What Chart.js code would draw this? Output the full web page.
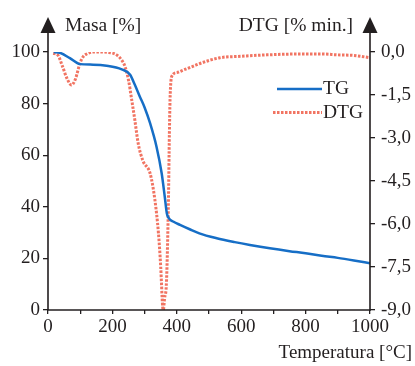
<!DOCTYPE html>
<html>
<head>
<meta charset="utf-8">
<script src="https://cdn.jsdelivr.net/npm/chart.js@4/dist/chart.umd.min.js"></script>
<style>
html,body{margin:0;padding:0;background:#fff;}
#wrap{width:415px;height:366px;position:relative;}
</style>
</head>
<body>
<div id="wrap"><canvas id="c" width="415" height="366"></canvas></div>
<script>
// ---- data ----
const tgTemp = [18, 37, 68, 99, 140, 182, 229, 255, 270, 286, 300, 317, 337, 353, 363, 369, 374, 390, 410, 440, 470, 524, 580, 627, 689, 750, 800, 850, 900, 950, 1000];
const tgMass = [100, 99.7, 97.6, 95.3, 95.1, 94.7, 93.3, 91.2, 87.2, 82.5, 78.5, 72.4, 63.3, 53, 43.5, 37.5, 35.8, 34.2, 33, 31.3, 29.7, 27.8, 26.3, 25.2, 23.9, 22.8, 22, 21, 20.2, 19.2, 18.1];

const dtgTemp = [16, 30, 45, 60, 73, 85, 99, 110, 120, 140, 161, 190, 213, 230, 239, 250, 260, 270, 280, 295, 317, 332, 343, 350, 356, 358, 362, 368, 374, 377, 379, 384, 400, 420, 450, 472, 534, 600, 679, 783, 850, 900, 950, 1000];
const dtgRate = [-0.05, -0.1, -0.5, -0.95, -1.15, -0.95, -0.4, -0.15, -0.07, 0, 0, -0.02, -0.1, -0.3, -0.5, -0.98, -1.67, -2.4, -3.18, -3.8, -4.23, -5.16, -6.32, -7.49, -8.88, -9.0, -8.6, -8.0, -5.2, -2.84, -1.67, -0.86, -0.72, -0.63, -0.5, -0.4, -0.2, -0.15, -0.1, -0.07, -0.07, -0.1, -0.12, -0.2];

const xTicks = [0, 100, 200, 300, 400, 500, 600, 700, 800, 900, 1000];
const massTicks = [0, 20, 40, 60, 80, 100];
const dtgTicks = [-9, -7.5, -6, -4.5, -3, -1.5, 0];

const labels = { tg: 'TG', dtg: 'DTG', left: 'Masa [%]', right: 'DTG [% min.]', x: 'Temperatura [°C]' };

// ---- styling ----
const FONT = '"Liberation Serif", "Times New Roman", serif';
const INK = '#231f20';
const BLUE = 'rgb(22,110,198)';
const RED = 'rgba(238,92,70,0.85)';

const tgData = tgTemp.map((t, i) => ({ x: t, y: tgMass[i] }));
const dtgData = dtgTemp.map((t, i) => ({ x: t, y: dtgRate[i] }));

const decor = {
  id: 'decor',
  afterDraw(chart) {
    const ctx = chart.ctx;
    const a = chart.chartArea;
    const L = a.left, R = a.right, B = a.bottom;
    const topY = 32;
    ctx.save();
    ctx.strokeStyle = INK;
    ctx.fillStyle = INK;
    ctx.lineWidth = 1.6;
    ctx.beginPath();
    ctx.moveTo(L, topY); ctx.lineTo(L, B);
    ctx.moveTo(L - 1, B); ctx.lineTo(R + 1, B);
    ctx.moveTo(R, topY); ctx.lineTo(R, B);
    ctx.stroke();
    [L, R].forEach(x => {
      ctx.beginPath();
      ctx.moveTo(x, 17);
      ctx.lineTo(x - 7.5, 33);
      ctx.lineTo(x + 7.5, 33);
      ctx.closePath();
      ctx.fill();
    });
    ctx.font = '19.5px ' + FONT;
    ctx.textBaseline = 'alphabetic';
    ctx.textAlign = 'left';
    ctx.fillText(labels.left, 65, 31);
    ctx.textAlign = 'right';
    ctx.fillText(labels.right, 353, 31);
    ctx.font = '19px ' + FONT;
    ctx.fillText(labels.x, 412, 358);

    // legend
    const ds = chart.data.datasets;
    const rows = [89, 112.5];
    ds.forEach((d, i) => {
      const y = rows[i];
      ctx.beginPath();
      ctx.strokeStyle = d.borderColor;
      ctx.lineWidth = d.borderWidth;
      ctx.setLineDash(d.borderDash || []);
      ctx.moveTo(i === 0 ? 277 : 273, y);
      ctx.lineTo(322, y);
      ctx.stroke();
      ctx.setLineDash([]);
      ctx.fillStyle = INK;
      ctx.textAlign = 'left';
      ctx.font = '19.5px ' + FONT;
      ctx.fillText(d.label, 323, y + 5);
    });
    ctx.restore();
  }
};

new Chart(document.getElementById('c'), {
  type: 'line',
  data: {
    datasets: [
      { label: labels.tg, data: tgData, yAxisID: 'y', borderColor: BLUE, borderWidth: 2.5,
        pointRadius: 0, cubicInterpolationMode: 'monotone', fill: false },
      { label: labels.dtg, data: dtgData, yAxisID: 'y2', borderColor: RED, borderWidth: 3,
        borderDash: [2.5, 1.5], pointRadius: 0, cubicInterpolationMode: 'monotone', fill: false }
    ]
  },
  options: {
    responsive: false,
    animation: false,
    devicePixelRatio: 1,
    layout: { padding: { top: 52, left: 0, right: 0, bottom: 0 } },
    plugins: { legend: { display: false }, tooltip: { enabled: false } },
    scales: {
      x: {
        type: 'linear', min: 0, max: 1000,
        afterBuildTicks: s => { s.ticks = xTicks.map(v => ({ value: v })); },
        afterFit: s => { s.height = 56; },
        border: { display: false },
        grid: { drawOnChartArea: false, drawTicks: true, tickLength: 4, color: INK, lineWidth: 1.3 },
        ticks: { color: INK, font: { family: FONT, size: 19 }, padding: 2, maxRotation: 0, autoSkip: false,
          callback: v => (v % 200 === 0 ? String(v) : '') }
      },
      y: {
        position: 'left', min: 0, max: 100,
        afterBuildTicks: s => { s.ticks = massTicks.map(v => ({ value: v })); },
        afterFit: s => { s.width = 48; },
        border: { display: false },
        grid: { drawOnChartArea: false, drawTicks: true, tickLength: 5, color: INK, lineWidth: 1.3 },
        ticks: { color: INK, font: { family: FONT, size: 19 }, padding: 3, callback: v => String(v) }
      },
      y2: {
        position: 'right', min: -9, max: 0,
        afterBuildTicks: s => { s.ticks = dtgTicks.map(v => ({ value: v })); },
        afterFit: s => { s.width = 45; },
        border: { display: false },
        grid: { drawOnChartArea: false, drawTicks: true, tickLength: 5, color: INK, lineWidth: 1.3 },
        ticks: { color: INK, font: { family: FONT, size: 19 }, padding: 6,
          callback: v => v.toFixed(1).replace('.', ',') }
      }
    }
  },
  plugins: [decor]
});
</script>
</body>
</html>
